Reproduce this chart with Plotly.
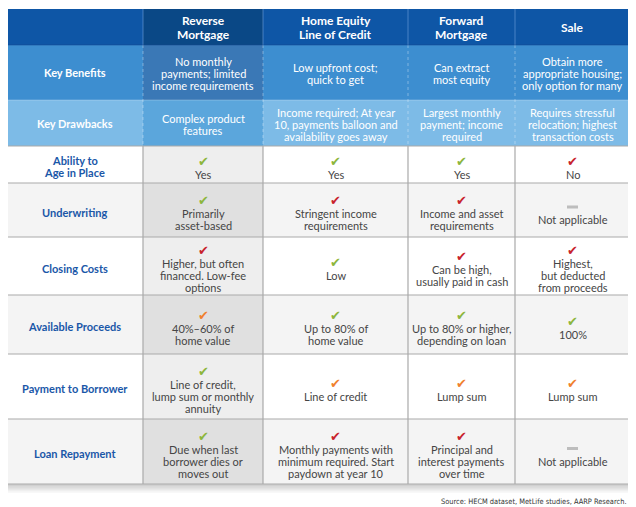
import plotly.graph_objects as go

# ---------------- data ----------------
columns = ["Reverse\nMortgage", "Home Equity\nLine of Credit", "Forward\nMortgage", "Sale"]
key_benefits = ["No monthly\npayments; limited\nincome requirements",
                "Low upfront cost;\nquick to get",
                "Can extract\nmost equity",
                "Obtain more\nappropriate housing;\nonly option for many"]
key_drawbacks = ["Complex product\nfeatures",
                 "Income required; At year\n10, payments balloon and\navailability goes away",
                 "Largest monthly\npayment; income\nrequired",
                 "Requires stressful\nrelocation; highest\ntransaction costs"]
row_labels = ["Ability to\nAge in Place", "Underwriting", "Closing Costs",
              "Available Proceeds", "Payment to Borrower", "Loan Repayment"]
ratings = [
    ["good", "good", "good", "bad"],
    ["good", "bad", "bad", "na"],
    ["bad", "good", "bad", "bad"],
    ["mixed", "good", "good", "good"],
    ["good", "mixed", "mixed", "mixed"],
    ["good", "bad", "bad", "na"],
]
cell_text = [
    ["Yes", "Yes", "Yes", "No"],
    ["Primarily\nasset-based", "Stringent income\nrequirements", "Income and asset\nrequirements", "Not applicable"],
    ["Higher, but often\nfinanced. Low-fee\noptions", "Low", "Can be high,\nusually paid in cash", "Highest,\nbut deducted\nfrom proceeds"],
    ["40%–60% of\nhome value", "Up to 80% of\nhome value", "Up to 80% or higher,\ndepending on loan", "100%"],
    ["Line of credit,\nlump sum or monthly\nannuity", "Line of credit", "Lump sum", "Lump sum"],
    ["Due when last\nborrower dies or\nmoves out", "Monthly payments with\nminimum required. Start\npaydown at year 10", "Principal and\ninterest payments\nover time", "Not applicable"],
]
source = "Source: HECM dataset, MetLife studies, AARP Research."

# ---------------- layout / style ----------------
W, H = 636, 507
OFF = 8  # page body margin
col_edges = [6, 143, 263, 408, 515, 630]
row_edges = [9, 45, 100, 146, 183, 237, 295, 354, 419, 484]

FONT = "Lato, 'Open Sans', sans-serif"
mark_color = {"good": "#8CB63C", "bad": "#C8232C", "mixed": "#F0812E", "na": "#BDBDBD"}
head_fill = ["#0E56A6", "#0A4886"]
ben_fill = ["#3D8ED0", "#3A78B6"]
draw_fill = ["#7DBBE7", "#5BA6DC"]
body_fill = {0: ("#FFFFFF", "#EEEEEE"), 1: ("#F4F4F4", "#E0E0E0")}
grid = "#A9A9A9"

shapes = []
annotations = []


def rect(x0, y0, x1, y1, fill, line=None, lw=0, opacity=1, layer="below"):
    shapes.append(dict(type="rect", xref="x", yref="y", x0=x0, y0=y0, x1=x1, y1=y1,
                       fillcolor=fill, opacity=opacity, layer=layer,
                       line=dict(color=line or fill, width=lw)))


def line(x0, y0, x1, y1, color, w=1, dash=None):
    d = dict(color=color, width=w)
    if dash:
        d["dash"] = dash
    shapes.append(dict(type="line", xref="x", yref="y", x0=x0, y0=y0, x1=x1, y1=y1,
                       line=d, layer="above"))


def text_block(x, yc, txt, size, color, bold=False, spacing=12):
    lines = txt.split("\n")
    n = len(lines)
    for i, ln in enumerate(lines):
        y = yc + (i - (n - 1) / 2) * spacing
        annotations.append(dict(x=x, y=y, xref="x", yref="y", showarrow=False,
                                text=f"<b>{ln}</b>" if bold else ln,
                                font=dict(family=FONT, size=size, color=color),
                                xanchor="center", yanchor="middle"))


# shadow
for k, op in enumerate([0.05, 0.05, 0.05, 0.04]):
    g = k + 1
    rect(col_edges[0] - g, row_edges[0] + 1, col_edges[-1] + g * 0.5,
         row_edges[-1] + g * 2.2, "#000000", opacity=op)

# header bands
ncol = len(col_edges) - 1
bands = [head_fill, ben_fill, draw_fill]
for r in range(3):
    for c in range(ncol):
        fill = bands[r][1] if c == 1 else bands[r][0]
        rect(col_edges[c], row_edges[r], col_edges[c + 1], row_edges[r + 1], fill)

# body cells
for r in range(len(row_labels)):
    y0, y1 = row_edges[r + 3], row_edges[r + 4]
    base, rev = body_fill[r % 2]
    for c in range(ncol):
        rect(col_edges[c], y0, col_edges[c + 1], y1, rev if c == 1 else base)

# separators in blue header area
for c in range(1, ncol):
    line(col_edges[c], row_edges[0], col_edges[c], row_edges[1], "rgba(120,170,225,0.55)", 1)
    line(col_edges[c], row_edges[1], col_edges[c], row_edges[3], "rgba(255,255,255,0.35)", 1, "dot")
line(col_edges[0], row_edges[1], col_edges[-1], row_edges[1], "rgba(20,70,140,0.5)", 1)
line(col_edges[0], row_edges[2], col_edges[-1], row_edges[2], "rgba(255,255,255,0.25)", 1)

# body grid
for r in range(3, len(row_edges)):
    line(col_edges[0], row_edges[r], col_edges[-1], row_edges[r], grid, 1.2)
for c in range(len(col_edges)):
    line(col_edges[c], row_edges[3], col_edges[c], row_edges[-1], grid, 1.2)
line(col_edges[0], row_edges[0], col_edges[0], row_edges[3], "#0B4A8C", 1.2)
line(col_edges[-1], row_edges[0], col_edges[-1], row_edges[3], "#0B4A8C", 1.2)


def cx(c):
    return (col_edges[c] + col_edges[c + 1]) / 2


def cy(r):
    return (row_edges[r] + row_edges[r + 1]) / 2


# header texts
for j, name in enumerate(columns):
    text_block(cx(j + 1), cy(0), name, 12, "#FFFFFF", bold=True, spacing=14)
text_block(cx(0), cy(1), "Key Benefits", 11, "#FFFFFF", bold=True)
text_block(cx(0), cy(2), "Key Drawbacks", 11, "#FFFFFF", bold=True)
for j in range(ncol - 1):
    text_block(cx(j + 1), cy(1) + 0.5, key_benefits[j], 11, "#FFFFFF")
    text_block(cx(j + 1), cy(2) + 1, key_drawbacks[j], 11, "#FFFFFF")

# row labels and cell content
for i, lab in enumerate(row_labels):
    r = i + 3
    text_block(cx(0), cy(r) + 2, lab, 11, "#1A57A8", bold=True, spacing=11.5)
    for j in range(ncol - 1):
        lines = cell_text[i][j].split("\n")
        n = len(lines)
        mid = cy(r) + 3
        total = 13 + (n - 1) * 12
        ymark = mid - total / 2
        st = ratings[i][j]
        if st == "na":
            rect(cx(j + 1) - 5.5, ymark - 1, cx(j + 1) + 5.5, ymark + 2, mark_color[st], layer="above")
        else:
            annotations.append(dict(x=cx(j + 1), y=ymark, xref="x", yref="y", showarrow=False,
                                    text="✔", font=dict(family="DejaVu Sans", size=13, color=mark_color[st]),
                                    xanchor="center", yanchor="middle"))
        for k, ln in enumerate(lines):
            annotations.append(dict(x=cx(j + 1), y=ymark + 13 + 12 * k, xref="x", yref="y",
                                    showarrow=False, text=ln,
                                    font=dict(family=FONT, size=11, color="#454545"),
                                    xanchor="center", yanchor="middle"))

# source
annotations.append(dict(x=629, y=501, xref="x", yref="y", showarrow=False, text=source,
                        font=dict(family="'Liberation Sans Narrow', 'DejaVu Sans Condensed', sans-serif",
                                  size=7.4, color="#333333"),
                        xanchor="right", yanchor="middle"))

fig = go.Figure()
fig.add_trace(go.Scatter(x=[OFF, W], y=[OFF, H], mode="markers", marker=dict(opacity=0),
                         hoverinfo="skip", showlegend=False))
fig.update_layout(
    width=W - OFF, height=H - OFF, autosize=False,
    margin=dict(l=0, r=0, t=0, b=0),
    paper_bgcolor="#FFFFFF", plot_bgcolor="#FFFFFF",
    xaxis=dict(range=[OFF, W], visible=False, fixedrange=True),
    yaxis=dict(range=[H, OFF], visible=False, fixedrange=True),
    shapes=shapes, annotations=annotations, showlegend=False,
)
fig.write_html("out.html")
